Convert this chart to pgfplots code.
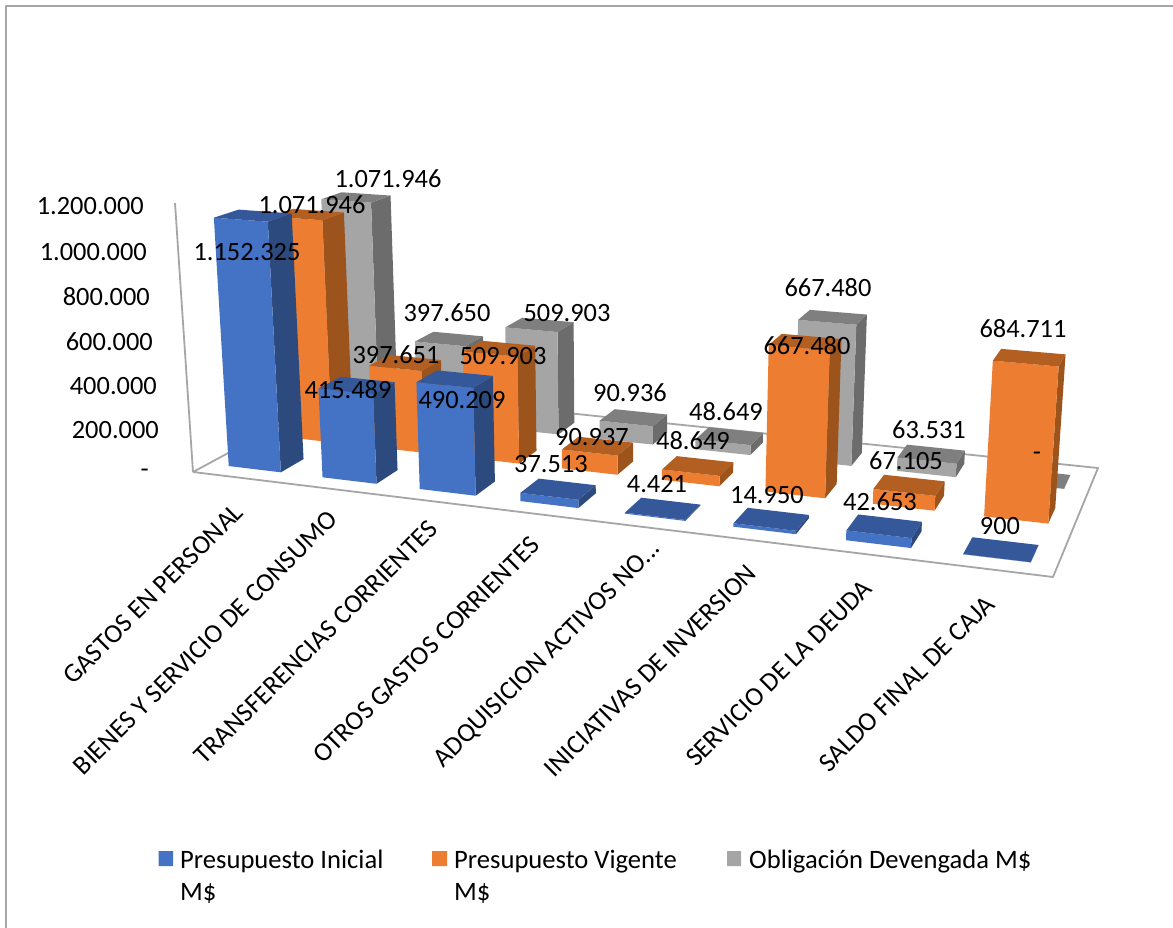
\documentclass[border=0pt]{standalone}
\usepackage{fontspec}
\setmainfont{Carlito}
\usepackage{pgfplots}
\usepackage{pgfplotstable}
\pgfplotsset{compat=1.18}

\definecolor{blueF}{HTML}{4472C4}
\definecolor{blueT}{HTML}{34589A}
\definecolor{blueS}{HTML}{2C4A7E}
\definecolor{oranF}{HTML}{ED7D31}
\definecolor{oranT}{HTML}{B45F22}
\definecolor{oranS}{HTML}{9C531C}
\definecolor{grayF}{HTML}{A5A5A5}
\definecolor{grayT}{HTML}{7F7F7F}
\definecolor{grayS}{HTML}{6C6C6C}
\definecolor{frameC}{HTML}{A6A6A6}

% values, M$
\pgfplotstableread{
cat ini vig obl
0 1152325 1071946 1071946
1 415489 397651 397650
2 490209 509903 509903
3 37513 90937 90936
4 4421 48649 48649
5 14950 667480 667480
6 42653 67105 63531
7 900 684711 0
}\datatbl

% floor corners in picture pixels (front left, front right, back right, back left)
\def\Xa{193}\def\Ya{472}
\def\Xb{1053}\def\Yb{577}
\def\Xc{1098}\def\Yc{468}
\def\Xd{345}\def\Yd{390}
% vanishing point of the verticals and its strength
\def\Vx{620}\def\Vy{7000}\def\Hr{-0.0385}

\edef\Dxa{\fpeval{\Xb-\Xc}}\edef\Dxb{\fpeval{\Xd-\Xc}}\edef\Sx{\fpeval{\Xa-\Xb+\Xc-\Xd}}
\edef\Dya{\fpeval{\Yb-\Yc}}\edef\Dyb{\fpeval{\Yd-\Yc}}\edef\Sy{\fpeval{\Ya-\Yb+\Yc-\Yd}}
\edef\Den{\fpeval{\Dxa*\Dyb-\Dxb*\Dya}}
\edef\Hg{\fpeval{(\Sx*\Dyb-\Dxb*\Sy)/\Den}}
\edef\Hh{\fpeval{(\Dxa*\Sy-\Sx*\Dya)/\Den}}
\edef\Ha{\fpeval{\Xb-\Xa+\Hg*\Xb}}
\edef\Hb{\fpeval{\Xd-\Xa+\Hh*\Xd}}
\edef\Hd{\fpeval{\Yb-\Ya+\Hg*\Yb}}
\edef\He{\fpeval{\Yd-\Ya+\Hh*\Yd}}
\edef\Hp{\fpeval{\Hr*\Vx}}
\edef\Hq{\fpeval{\Hr*\Vy}}

% \proj{name}{X in categories}{Y depth 0..1}{value}
\newcommand\proj[4]{%
  \edef\ww{\fpeval{\Hg*(#2)/8+\Hh*(#3)+1+\Hr*(#4)/1200000}}%
  \expandafter\edef\csname #1\endcsname{(\fpeval{round((\Ha*(#2)/8+\Hb*(#3)+\Xa+\Hp*(#4)/1200000)/\ww,2)},\fpeval{round((\Hd*(#2)/8+\He*(#3)+\Ya+\Hq*(#4)/1200000)/\ww,2)})}}

\def\barL{0.22}\def\barW{0.56}\def\depL{0.27}\def\depW{0.43}
% \drawbar{category}{series}{value}{colour prefix}
\newcommand\drawbar[4]{%
  \edef\xl{\fpeval{#1+\barL}}\edef\xr{\fpeval{#1+\barL+\barW}}%
  \edef\yf{\fpeval{(#2+\depL)/3}}\edef\yb{\fpeval{(#2+\depL+\depW)/3}}%
  \proj{pa}{\xl}{\yf}{0}\proj{pb}{\xr}{\yf}{0}\proj{pc}{\xr}{\yb}{0}%
  \proj{pe}{\xl}{\yf}{#3}\proj{pf}{\xr}{\yf}{#3}\proj{pg}{\xr}{\yb}{#3}\proj{ph}{\xl}{\yb}{#3}%
  \edef\tmp{\noexpand\addplot[fill=#4S,draw=none,forget plot] coordinates {\pb\pc\pg\pf\pb};
    \noexpand\addplot[fill=#4F,draw=none,forget plot] coordinates {\pa\pb\pf\pe\pa};
    \noexpand\addplot[fill=#4T,draw=none,forget plot] coordinates {\pe\pf\pg\ph\pe};}%
  \tmp}
\newcommand\series[3]{%
  \pgfplotsforeachungrouped \i in {0,...,7}{%
    \pgfplotstablegetelem{\i}{#2}\of\datatbl
    \edef\vv{\pgfplotsretval}%
    \drawbar{\i}{#1}{\vv}{#3}}}

\newcommand\lab[3]{\node[font=\fontsize{26.4}{30}\selectfont,inner sep=0pt,anchor=center] at (axis cs:#1,#2) {#3};}
\newcommand\catlab[3]{\node[font=\fontsize{26.6}{30}\selectfont,inner sep=0pt,anchor=east,rotate=45] at (axis cs:#1,#2) {#3};}
\newcommand\ticklab[3]{\node[font=\fontsize{26.4}{30}\selectfont,inner sep=0pt,anchor=east] at (axis cs:#1,#2) {#3};}

\begin{document}
\begin{tikzpicture}
\begin{axis}[
    scale only axis, width=1173pt, height=928pt,
    xmin=0, xmax=1173, ymin=0, ymax=928, y dir=reverse,
    axis lines=none, clip=false, no markers,
    line join=round,
  ]
  \path[use as bounding box] (axis cs:0,0) rectangle (axis cs:1173,928);
  % chart frame, only top and left show
  \addplot[frameC,line width=2pt,forget plot] coordinates {(6,928) (6,6) (1173,6)};
  % floor and value axis
  \addplot[frameC,line width=1.8pt,fill=white,forget plot] coordinates {(\Xa,\Ya) (\Xb,\Yb) (\Xc,\Yc) (\Xd,\Yd) (\Xa,\Ya)};
  \addplot[frameC,line width=1.8pt,forget plot] coordinates {(175,203) (\Xa,\Ya)};

  \series{2}{obl}{gray}
  \series{1}{vig}{oran}
  \series{0}{ini}{blue}

  \ticklab{144}{206}{1.200.000}
  \ticklab{147}{252}{1.000.000}
  \ticklab{150}{297}{800.000}
  \ticklab{153}{342}{600.000}
  \ticklab{157}{386}{400.000}
  \ticklab{159}{430}{200.000}
  \ticklab{149}{473}{-}

  \catlab{239}{508}{GASTOS EN PERSONAL}
  \catlab{333}{515}{BIENES Y SERVICIO DE CONSUMO}
  \catlab{433}{525}{TRANSFERENCIAS CORRIENTES}
  \catlab{535}{541}{OTROS GASTOS CORRIENTES}
  \catlab{657}{545}{ADQUISICION ACTIVOS NO...}
  \catlab{752}{569}{INICIATIVAS DE INVERSION}
  \catlab{868}{584}{SERVICIO DE LA DEUDA}
  \catlab{990}{600}{SALDO FINAL DE CAJA}

  \lab{247}{252}{1.152.325}
  \lab{348}{390}{415.489}
  \lab{462}{400}{490.209}
  \lab{551}{464}{37.513}
  \lab{657}{484}{4.421}
  \lab{767}{495}{14.950}
  \lab{880}{502}{42.653}
  \lab{1000}{526}{900}
  \lab{312}{205}{1.071.946}
  \lab{396}{355}{397.651}
  \lab{503}{356}{509.903}
  \lab{592}{437}{90.937}
  \lab{693}{441}{48.649}
  \lab{807}{346}{667.480}
  \lab{906}{461}{67.105}
  \lab{1023}{329}{684.711}
  \lab{388}{179}{1.071.946}
  \lab{447}{313}{397.650}
  \lab{567}{313}{509.903}
  \lab{630}{393}{90.936}
  \lab{726}{412}{48.649}
  \lab{828}{288}{667.480}
  \lab{929}{430}{63.531}
  \lab{1037}{456}{-}

  % legend
  \addplot[fill=blueF,draw=none,forget plot] coordinates {(158.5,851) (173,851) (173,866) (158.5,866) (158.5,851)};
  \addplot[fill=oranF,draw=none,forget plot] coordinates {(432,851) (447,851) (447,866) (432,866) (432,851)};
  \addplot[fill=grayF,draw=none,forget plot] coordinates {(727,851) (741,851) (741,866) (727,866) (727,851)};
  \node[font=\fontsize{26.6}{32}\selectfont,inner sep=0pt,anchor=base west] at (axis cs:180,868) {Presupuesto Inicial};
  \node[font=\fontsize{26.6}{32}\selectfont,inner sep=0pt,anchor=base west] at (axis cs:180,900) {M\$};
  \node[font=\fontsize{26.6}{32}\selectfont,inner sep=0pt,anchor=base west] at (axis cs:454,868) {Presupuesto Vigente};
  \node[font=\fontsize{26.6}{32}\selectfont,inner sep=0pt,anchor=base west] at (axis cs:454,900) {M\$};
  \node[font=\fontsize{26.6}{32}\selectfont,inner sep=0pt,anchor=base west] at (axis cs:749,868) {Obligación Devengada M\$};
\end{axis}
\end{tikzpicture}
\end{document}
